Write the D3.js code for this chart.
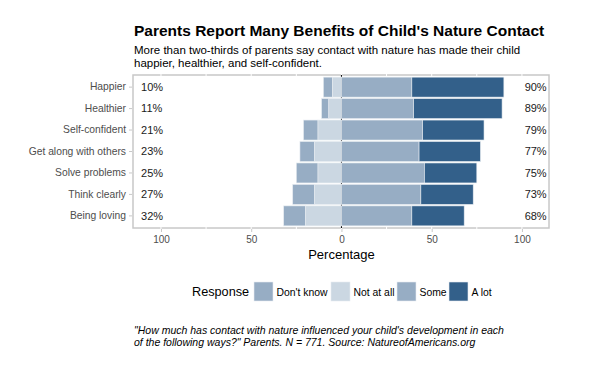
<!DOCTYPE html>
<html>
<head>
<meta charset="utf-8">
<script src="https://cdn.jsdelivr.net/npm/d3@7"></script>
<style>
  body { margin: 0; background: #fff; }
  text { font-family: "Liberation Sans", Arial, sans-serif; }
</style>
</head>
<body>
<script>
var categories = ['Happier', 'Healthier', 'Self-confident', 'Get along with others',
  'Solve problems', 'Think clearly', 'Being loving'];
var dontKnow = [5, 4, 8, 8, 12, 12, 12];
var notAtAll = [5, 7, 13, 15, 13, 15, 20];
var some = [39, 40, 45, 43, 46, 44, 39];
var aLot = [51, 49, 34, 34, 29, 29, 29];
var responses = ["Don't know", 'Not at all', 'Some', 'A lot'];
var colors = ['#97adc4', '#cbd7e2', '#97adc4', '#33608a'];
var xTicks = [-100, -50, 0, 50, 100];
var gridTicks = [-100, -75, -50, -25, 0, 25, 50, 75, 100];

var width = 600;
var height = 369;
var panel = { left: 133, right: 549, top: 75, bottom: 228 };

var svg = d3.select('body').append('svg')
  .attr('width', width)
  .attr('height', height);

var x = d3.scaleLinear()
  .domain([-115.5, 115])
  .range([panel.left, panel.right]);

var y = d3.scaleBand()
  .domain(categories)
  .range([panel.top, panel.bottom])
  .paddingInner(0.07)
  .paddingOuter(0.1);

// stacked segments, negative side first
var rows = categories.map(function(c, i) {
  var segs = [
    { key: 0, x0: -(notAtAll[i] + dontKnow[i]), x1: -notAtAll[i] },
    { key: 1, x0: -notAtAll[i], x1: 0 },
    { key: 2, x0: 0, x1: some[i] },
    { key: 3, x0: some[i], x1: some[i] + aLot[i] }
  ];
  return { cat: c, segs: segs, neg: dontKnow[i] + notAtAll[i], pos: some[i] + aLot[i] };
});

// panel
svg.append('rect')
  .attr('x', panel.left)
  .attr('y', panel.top)
  .attr('width', panel.right - panel.left)
  .attr('height', panel.bottom - panel.top)
  .attr('fill', '#fff')
  .attr('stroke', '#c8c8c8')
  .attr('stroke-width', 1.5);

svg.selectAll('.grid')
  .data(gridTicks)
  .enter()
    .append('line')
    .attr('class', 'grid')
    .attr('x1', function(d) { return x(d); })
    .attr('x2', function(d) { return x(d); })
    .attr('y1', panel.top - 1)
    .attr('y2', panel.bottom + 1)
    .attr('stroke', '#fff')
    .attr('stroke-width', 1);

svg.append('line')
  .attr('x1', x(0))
  .attr('x2', x(0))
  .attr('y1', panel.top)
  .attr('y2', panel.bottom)
  .attr('stroke', '#000')
  .attr('stroke-width', 1);

var row = svg.selectAll('.row')
  .data(rows)
  .enter()
    .append('g')
    .attr('class', 'row');

row.selectAll('rect')
  .data(function(d) { return d.segs.map(function(s) { s.cat = d.cat; return s; }); })
  .enter()
    .append('rect')
    .attr('x', function(s) { return x(s.x0); })
    .attr('width', function(s) { return x(s.x1) - x(s.x0); })
    .attr('y', function(s) { return y(s.cat); })
    .attr('height', y.bandwidth())
    .attr('fill', function(s) { return colors[s.key]; })
    .attr('stroke', '#e6ebf0')
    .attr('stroke-width', 0.6);

row.append('text')
  .attr('x', x(-111))
  .attr('y', function(d) { return y(d.cat) + y.bandwidth() / 2; })
  .attr('dy', '0.35em')
  .attr('font-size', 11)
  .attr('fill', '#1a1a1a')
  .text(function(d) { return d.neg + '%'; });

row.append('text')
  .attr('x', x(101.5))
  .attr('y', function(d) { return y(d.cat) + y.bandwidth() / 2; })
  .attr('dy', '0.35em')
  .attr('font-size', 11)
  .attr('fill', '#1a1a1a')
  .text(function(d) { return d.pos + '%'; });

// y axis
var yAxis = svg.append('g')
  .attr('transform', 'translate(' + (panel.left - 1) + ',0)')
  .call(d3.axisLeft(y).tickSize(3).tickPadding(3));
yAxis.select('.domain').remove();
yAxis.selectAll('line').attr('stroke', '#c8c8c8');
yAxis.selectAll('text')
  .attr('font-size', 10.3)
  .attr('fill', '#4d4d4d')
  .style('font-family', '"Liberation Sans", Arial, sans-serif');

// x axis
var xAxis = svg.append('g')
  .attr('transform', 'translate(0,' + (panel.bottom + 1) + ')')
  .call(d3.axisBottom(x).tickValues(xTicks).tickSize(3).tickPadding(4)
    .tickFormat(function(d) { return Math.abs(d); }));
xAxis.select('.domain').remove();
xAxis.selectAll('line').attr('stroke', '#c8c8c8');
xAxis.selectAll('text')
  .attr('font-size', 10)
  .attr('fill', '#4d4d4d')
  .style('font-family', '"Liberation Sans", Arial, sans-serif');

svg.append('text')
  .attr('x', x(0))
  .attr('y', 259)
  .attr('text-anchor', 'middle')
  .attr('font-size', 13)
  .attr('fill', '#000')
  .text('Percentage');

// titles
svg.append('text')
  .attr('x', 134)
  .attr('y', 35.5)
  .attr('font-size', 15.5)
  .attr('font-weight', 'bold')
  .attr('fill', '#000')
  .text("Parents Report Many Benefits of Child's Nature Contact");

svg.append('text')
  .attr('x', 134)
  .attr('y', 53.5)
  .attr('font-size', 11.5)
  .attr('fill', '#000')
  .text('More than two-thirds of parents say contact with nature has made their child');

svg.append('text')
  .attr('x', 134)
  .attr('y', 66.5)
  .attr('font-size', 11.5)
  .attr('fill', '#000')
  .text('happier, healthier, and self-confident.');

// legend
var legend = svg.append('g');
legend.append('text')
  .attr('x', 192)
  .attr('y', 292)
  .attr('dy', '0.35em')
  .attr('font-size', 12.7)
  .attr('fill', '#000')
  .text('Response');

var keyX = [254, 331, 397, 449];
var item = legend.selectAll('.item')
  .data(responses)
  .enter()
    .append('g')
    .attr('class', 'item')
    .attr('transform', function(d, i) { return 'translate(' + keyX[i] + ',282)'; });

item.append('rect')
  .attr('width', 19)
  .attr('height', 19)
  .attr('fill', function(d, i) { return colors[i]; })
  .attr('stroke', '#e6ebf0')
  .attr('stroke-width', 0.6);

item.append('text')
  .attr('x', 22.5)
  .attr('y', 10)
  .attr('dy', '0.35em')
  .attr('font-size', 10.4)
  .attr('fill', '#000')
  .text(function(d) { return d; });

// caption
svg.append('text')
  .attr('x', 134)
  .attr('y', 334)
  .attr('font-size', 10.5)
  .attr('font-style', 'italic')
  .attr('fill', '#000')
  .text('"How much has contact with nature influenced your child\'s development in each');

svg.append('text')
  .attr('x', 134)
  .attr('y', 346)
  .attr('font-size', 10.5)
  .attr('font-style', 'italic')
  .attr('fill', '#000')
  .text('of the following ways?" Parents. N = 771. Source: NatureofAmericans.org');
</script>
</body>
</html>
